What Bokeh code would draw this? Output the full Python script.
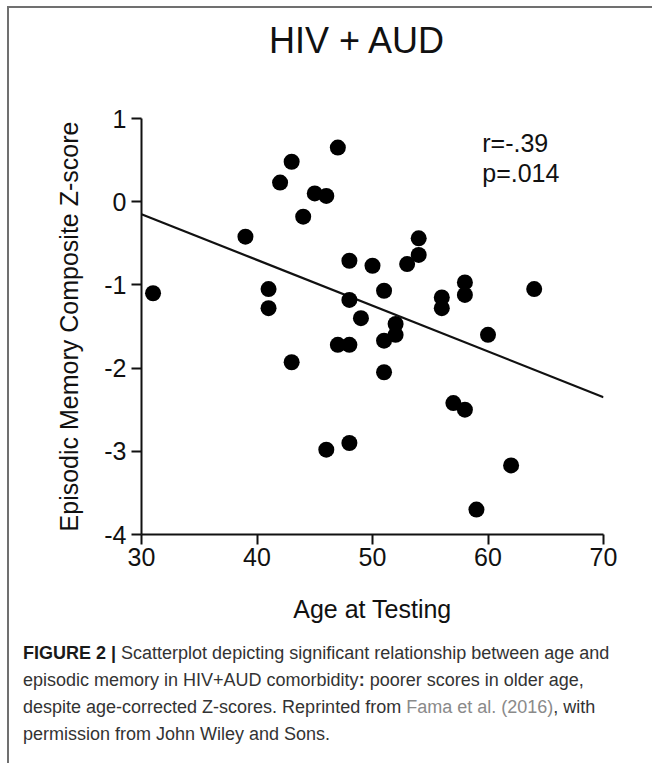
from bokeh.plotting import figure
from bokeh.models import Label, Div, Range1d, FixedTicker
from bokeh.layouts import column
from bokeh.embed import file_html
from bokeh.resources import INLINE

# ---- data ----
age = [31, 39, 41, 41, 42, 43, 43, 44, 45, 46, 46, 47, 47, 48, 48, 48, 48, 49,
       50, 51, 51, 51, 52, 52, 53, 54, 54, 56, 56, 57, 58, 58, 58, 59, 60, 62, 64]
zscore = [-1.10, -0.42, -1.05, -1.28, 0.23, 0.48, -1.93, -0.18, 0.10, 0.07, -2.98,
          0.65, -1.72, -0.71, -1.18, -1.72, -2.90, -1.40, -0.77, -1.07, -1.67, -2.05,
          -1.47, -1.60, -0.75, -0.44, -0.64, -1.15, -1.28, -2.42, -0.97, -1.12, -2.50,
          -3.70, -1.60, -3.17, -1.05]
fit_age = [30, 70]
fit_z = [-0.15, -2.35]
x_ticks = [30, 40, 50, 60, 70]
y_ticks = [1, 0, -1, -2, -3, -4]
title_text = "HIV + AUD"
stats_lines = ["r=-.39", "p=.014"]

FONT = "Liberation Sans"

title_div = Div(
    text=("<div style=\"font-family:'Liberation Sans',Arial,sans-serif;font-size:36px;"
          "line-height:36px;color:#111111;padding-top:15px;padding-left:260px;"
          "white-space:nowrap;\">" + title_text + "</div>"),
    width=643, height=80, margin=(0, 0, 0, 0))

p = figure(width=643, height=552, x_range=Range1d(30, 70), y_range=Range1d(-4, 1),
           output_backend="svg", toolbar_location=None,
           min_border_left=132, min_border_right=49,
           min_border_top=30, min_border_bottom=106)
p.outline_line_color = None
p.xgrid.grid_line_color = None
p.ygrid.grid_line_color = None
p.background_fill_color = "white"
p.border_fill_color = "white"

for ax, ticks in ((p.xaxis, x_ticks), (p.yaxis, y_ticks)):
    ax.ticker = FixedTicker(ticks=ticks)
    ax.major_label_overrides = {t: str(t) for t in ticks}
    ax.axis_line_width = 2
    ax.axis_line_color = "#111111"
    ax.major_tick_line_width = 2
    ax.major_tick_line_color = "#111111"
    ax.major_tick_out = 10
    ax.major_tick_in = 0
    ax.minor_tick_line_color = None
    ax.major_label_text_font = FONT
    ax.major_label_text_font_size = "25px"
    ax.major_label_text_color = "#111111"
    ax.axis_label_text_font = FONT
    ax.axis_label_text_font_size = "25px"
    ax.axis_label_text_font_style = "normal"
    ax.axis_label_text_color = "#111111"

p.xaxis.axis_label = "Age at Testing"
p.xaxis.major_label_standoff = 3
p.xaxis.axis_label_standoff = 26
p.yaxis.axis_label = "Episodic Memory Composite Z-score"
p.yaxis.major_label_standoff = 5
p.yaxis.axis_label_standoff = 18

p.line(fit_age, fit_z, line_color="#111111", line_width=2.2)
p.scatter(age, zscore, size=16, fill_color="black", line_color="black", line_width=0)

p.add_layout(Label(x=59.5, y=0.70, text=stats_lines[0], text_font=FONT,
                   text_font_size="25px", text_color="#111111",
                   text_baseline="alphabetic"))
p.add_layout(Label(x=59.5, y=0.35, text=stats_lines[1], text_font=FONT,
                   text_font_size="25px", text_color="#111111",
                   text_baseline="alphabetic"))

caption_html = (
    "<div style=\"font-family:'Liberation Sans',Arial,sans-serif;font-size:18px;"
    "line-height:27px;color:#333333;padding-left:14px;white-space:nowrap;\">"
    "<b style='color:#1a1a1a'>FIGURE 2 |</b> Scatterplot depicting significant relationship between age and<br>"
    "episodic memory in HIV+AUD comorbidity<b>:</b> poorer scores in older age,<br>"
    "despite age-corrected Z-scores. Reprinted from "
    "<span style='color:#8a8a8a'>Fama et al. (2016)</span>, with<br>"
    "permission from John Wiley and Sons.</div>"
)
caption = Div(text=caption_html, width=643, height=123, margin=(0, 0, 0, 0))

root = column(title_div, p, caption, spacing=0, margin=(6, 0, 0, 7),
              styles={"border-left": "2px solid #707070",
                      "border-top": "2px solid #707070"})

open("out.html", "w").write(file_html(root, INLINE))
